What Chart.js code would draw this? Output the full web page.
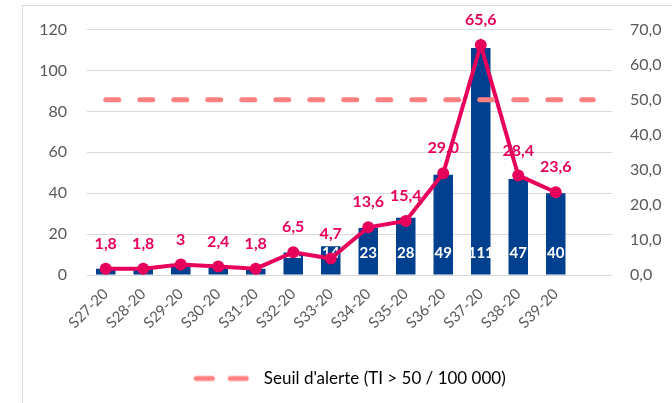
<!DOCTYPE html>
<html>
<head>
<meta charset="utf-8">
<script src="https://cdn.jsdelivr.net/npm/chart.js@4.4.0/dist/chart.umd.min.js"></script>
<style>
  html, body { margin: 0; padding: 0; background: #fff; }
  #wrap { position: relative; width: 672px; height: 403px; overflow: hidden; }
  #frame { position: absolute; left: 22px; top: 5px; width: 700px; height: 420px; border: 1px solid #d9d9d9; box-sizing: border-box; }
  canvas { position: absolute; left: 0; top: 0; }
</style>
</head>
<body>
<div id="wrap">
  <div id="frame"></div>
  <canvas id="chart" width="672" height="403"></canvas>
</div>
<script>
const weeks = ['S27-20', 'S28-20', 'S29-20', 'S30-20', 'S31-20', 'S32-20', 'S33-20',
               'S34-20', 'S35-20', 'S36-20', 'S37-20', 'S38-20', 'S39-20', ''];
const cases = [3, 3, 5, 4, 3, 11, 14, 23, 28, 49, 111, 47, 40];
const rate = [1.8, 1.8, 3, 2.4, 1.8, 6.5, 4.7, 13.6, 15.4, 29.0, 65.6, 28.4, 23.6];
const rateLabels = ['1,8', '1,8', '3', '2,4', '1,8', '6,5', '4,7', '13,6', '15,4', '29,0', '65,6', '28,4', '23,6'];
const threshold = [50, 50, 50, 50, 50, 50, 50, 50, 50, 50, 50, 50, 50, 50];
const leftTicks = [0, 20, 40, 60, 80, 100, 120];
const rightTicks = [0, 10, 20, 30, 40, 50, 60, 70];

const pink = '#E6005C';
const blue = '#00408F';
const salmon = '#FF8080';
const grey = '#595959';
const font = 'Lato, "Open Sans", sans-serif';

// dashed legend symbol
const dashIcon = document.createElement('canvas');
dashIcon.width = 62;
dashIcon.height = 8;
{
    const c = dashIcon.getContext('2d');
    c.strokeStyle = salmon;
    c.lineWidth = 5;
    c.lineCap = 'round';
    c.beginPath();
    c.moveTo(3, 4); c.lineTo(19, 4);
    c.moveTo(37, 4); c.lineTo(53, 4);
    c.stroke();
}

// labels drawn after the bars, below the line
const labelPlugin = {
    id: 'valueLabels',
    afterDatasetDraw(chart, args) {
        if (args.index !== 2) return;
        const ctx = chart.ctx;
        ctx.save();
        ctx.textAlign = 'center';
        ctx.textBaseline = 'middle';
        const bars = chart.getDatasetMeta(2).data;
        ctx.font = 'bold 15px ' + font;
        ctx.fillStyle = '#ffffff';
        bars.forEach((b, i) => {
            if (cases[i] < 10) return;
            ctx.fillText(String(cases[i]), b.x, b.base - 21);
        });
        const pts = chart.getDatasetMeta(1).data;
        ctx.font = 'bold 16px ' + font;
        ctx.fillStyle = pink;
        pts.forEach((p, i) => {
            ctx.fillText(rateLabels[i], p.x, p.y - 25);
        });
        ctx.restore();
    }
};

new Chart(document.getElementById('chart'), {
    data: {
        labels: weeks,
        datasets: [
            {
                type: 'line',
                label: "Seuil d'alerte (TI > 50 / 100 000)",
                data: threshold,
                yAxisID: 'y2',
                borderColor: salmon,
                borderWidth: 5,
                borderDash: [13, 21],
                borderCapStyle: 'round',
                pointRadius: 0,
                fill: false,
                order: 0,
            },
            {
                type: 'line',
                label: 'Taux',
                data: rate,
                yAxisID: 'y2',
                borderColor: pink,
                backgroundColor: pink,
                borderWidth: 4,
                pointRadius: 6,
                pointBackgroundColor: pink,
                pointBorderWidth: 0,
                tension: 0,
                fill: false,
                order: 1,
            },
            {
                type: 'bar',
                label: 'Cas',
                data: cases,
                yAxisID: 'y',
                backgroundColor: blue,
                barPercentage: 0.52,
                categoryPercentage: 1,
                order: 2,
            }
        ]
    },
    options: {
        responsive: false,
        animation: false,
        layout: { padding: { top: 19, bottom: 6, left: 0, right: 0 } },
        plugins: {
            tooltip: { enabled: false },
            legend: {
                position: 'bottom',
                fullSize: false,
                labels: {
                    usePointStyle: true,
                    pointStyleWidth: 62,
                    padding: 10,
                    color: grey,
                    font: { family: font, size: 17 },
                    generateLabels: () => [{
                        text: "Seuil d'alerte (TI > 50 / 100 000)",
                        pointStyle: dashIcon,
                        fillStyle: salmon,
                        strokeStyle: salmon,
                        lineWidth: 0,
                        hidden: false,
                        datasetIndex: 0,
                    }]
                }
            }
        },
        scales: {
            x: {
                grid: { display: false },
                border: { display: false },
                ticks: {
                    color: grey,
                    font: { family: font, size: 15 },
                    maxRotation: 45,
                    minRotation: 45,
                    autoSkip: false,
                    padding: 2,
                },
                afterFit(axis) { axis.height = 85; }
            },
            y: {
                position: 'left',
                min: 0,
                max: 120,
                afterBuildTicks(axis) { axis.ticks = leftTicks.map(v => ({ value: v })); },
                grid: { color: '#d9d9d9', lineWidth: 1, drawTicks: false },
                border: { display: false },
                ticks: {
                    color: grey,
                    font: { family: font, size: 16 },
                    padding: 20,
                },
                afterFit(axis) { axis.width = 87; }
            },
            y2: {
                position: 'right',
                min: 0,
                max: 70,
                afterBuildTicks(axis) { axis.ticks = rightTicks.map(v => ({ value: v })); },
                grid: { display: false },
                border: { display: false },
                ticks: {
                    color: grey,
                    font: { family: font, size: 16 },
                    padding: 10,
                    callback: v => v.toFixed(1).replace('.', ',')
                },
                afterFit(axis) { axis.width = 60; }
            }
        }
    },
    plugins: [labelPlugin]
});
</script>
</body>
</html>
